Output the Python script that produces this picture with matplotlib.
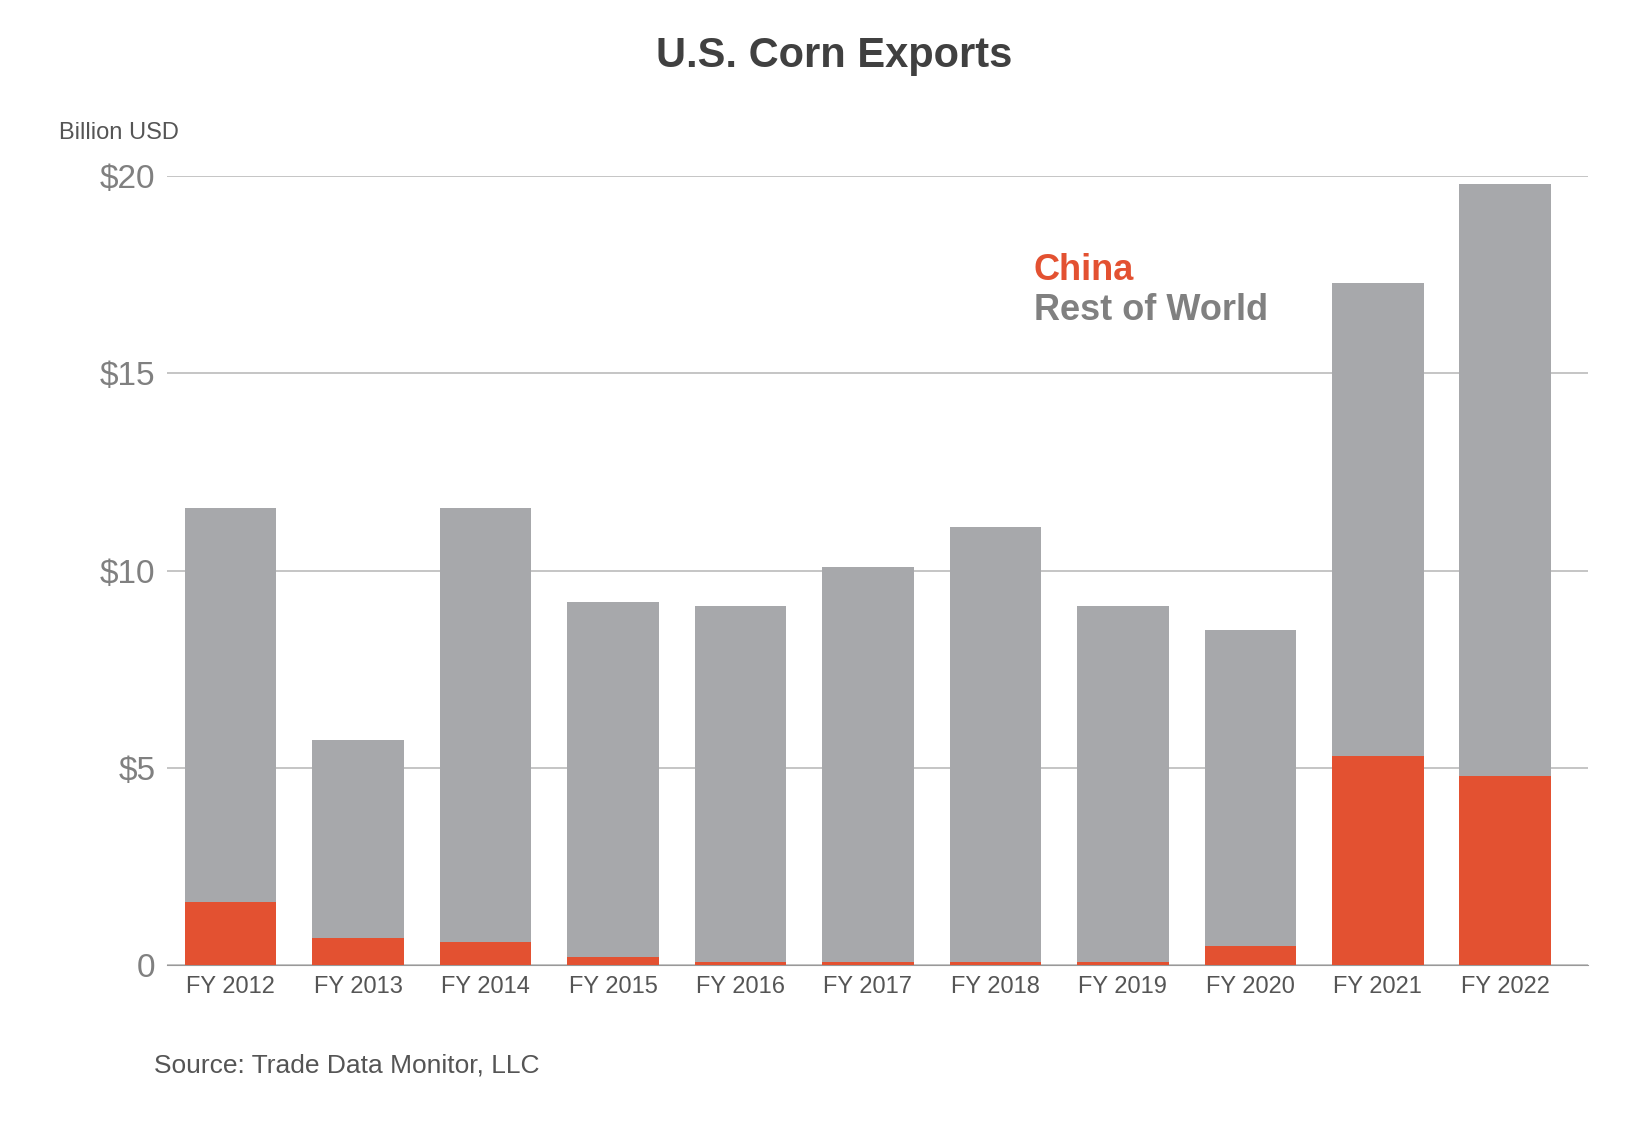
import matplotlib.pyplot as plt
import numpy as np

years = ["FY 2012", "FY 2013", "FY 2014", "FY 2015", "FY 2016", "FY 2017",
         "FY 2018", "FY 2019", "FY 2020", "FY 2021", "FY 2022"]
totals = [11.6, 5.7, 11.6, 9.2, 9.1, 10.1, 11.1, 9.1, 8.5, 17.3, 19.8]
china = [1.6, 0.7, 0.6, 0.2, 0.08, 0.08, 0.08, 0.08, 0.5, 5.3, 4.8]
rest = np.array(totals) - np.array(china)

red = "#e35131"
gray = "#a7a8ab"
txt = "#555555"
plt.rcParams["font.family"] = "Liberation Sans"

fig = plt.figure(figsize=(16.51, 11.29), dpi=100)
ax = fig.add_axes([0.101, 0.145, 0.861, 0.699])
x = np.arange(len(years))
ax.bar(x, china, width=0.72, color=red, zorder=3)
ax.bar(x, rest, bottom=china, width=0.72, color=gray, zorder=3)

ax.set_ylim(0, 20)
ax.set_xlim(-0.5, len(years) - 0.35)
ax.set_yticks([0, 5, 10, 15, 20])
ax.set_yticklabels(["0", "$5", "$10", "$15", "$20"], fontsize=24, color="#808080")
ax.set_xticks(x)
ax.set_xticklabels(years, fontsize=17, color=txt)
ax.tick_params(length=0, pad=8)
ax.grid(axis="y", color="#bbbbbb", linewidth=1.2, zorder=0)
for s in ["top", "right", "left"]:
    ax.spines[s].set_visible(False)
ax.spines["bottom"].set_color("#999999")

fig.text(0.505, 0.95, "U.S. Corn Exports", ha="center", va="center",
         fontsize=30, fontweight="bold", color="#404040")
fig.text(0.036, 0.882, "Billion USD", fontsize=17, color=txt, va="center")
ax.text(6.3, 17.6, "China", fontsize=26, fontweight="bold", color=red, va="center")
ax.text(6.3, 16.6, "Rest of World", fontsize=26, fontweight="bold", color="#808080", va="center")
fig.text(0.093, 0.056, "Source: Trade Data Monitor, LLC", fontsize=19, color=txt, va="center")

fig.savefig("out.png", dpi=100, facecolor="white")
